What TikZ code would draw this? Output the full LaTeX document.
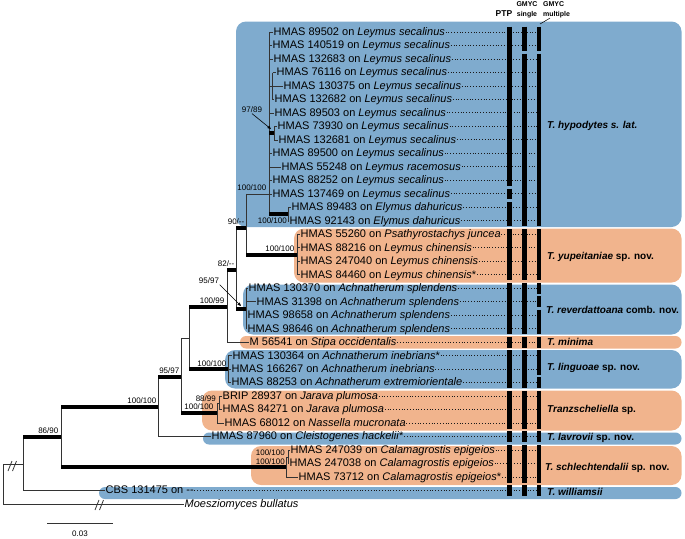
\documentclass[tikz,border=0pt]{standalone}
\usepackage{fontspec}
\setmainfont{Liberation Sans}
\usetikzlibrary{arrows.meta,calc,positioning}
\definecolor{cladeblue}{RGB}{127,171,206}
\definecolor{cladeorange}{RGB}{241,180,141}
\tikzset{
  leaf/.style={anchor=west, inner xsep=0.5pt, inner ysep=0pt,
    font=\fontsize{11}{13}\selectfont, text height=8pt, text depth=1.5pt},
  branch/.style={black!80, line width=0.8pt},
  strong/.style={black, line width=4pt},
  support/.style={font=\fontsize{8}{9}\selectfont, inner sep=0.5pt},
  leader/.style={black!90, line width=1pt, dash pattern=on 1pt off 1.8pt},
  clade box/.style={rounded corners=10pt},
  thin clade/.style={rounded corners=6pt},
  delim bar/.style={black, line width=4.4pt},
  species/.style={anchor=west, inner sep=0pt,
    font=\fontsize{10}{12}\selectfont\bfseries},
  header/.style={inner sep=0pt, font=\fontsize{7}{9.5}\selectfont\bfseries},
  pointer/.style={black, line width=0.6pt,
    -{Triangle[length=3.5pt,width=3pt]}}
}

\begin{document}
\begin{tikzpicture}[x=1pt, y=-1pt]
  \useasboundingbox (0,0) rectangle (685,538);

  % Clade backgrounds.
  \fill[cladeblue, clade box]   (236,21.5)  rectangle (681.5,227);
  \fill[cladeorange, clade box] (294,228.5) rectangle (681.5,282.5);
  \fill[cladeblue, clade box]   (243,284.5) rectangle (681.5,334.5);
  \fill[cladeorange, thin clade] (240,336)  rectangle (681.5,348.5);
  \fill[cladeblue, clade box]   (225,350)   rectangle (681.5,388.5);
  \fill[cladeorange, clade box] (202,390.5) rectangle (681.5,430.5);
  \fill[cladeblue, thin clade]  (203,432.5) rectangle (681.5,444.5);
  \fill[cladeorange, clade box] (251,446)   rectangle (681.5,485);
  \fill[cladeblue, thin clade]  (99,487)    rectangle (681.5,499);

  % Column headers.
  \node[header, font=\fontsize{8.5}{9}\selectfont\bfseries] (ptp) at (504,14) {PTP};
  \node[header, align=center] (gsingle) at (527,10) {GMYC\\single};
  \node[header, align=left, anchor=west] (gmulti) at (543,10) {GMYC\\multiple};
  \coordinate (multiTop) at (540,24);
  \draw[line width=0.5pt] ([xshift=7pt]gmulti.south west) -- (multiTop);

  % Leaves: T. hypodytes s. lat.
  \node[leaf] (hy1)  at (273,32.0)  {HMAS 89502 on \textit{Leymus secalinus}};
  \node[leaf] (hy2)  at (272,45.5)  {HMAS 140519 on \textit{Leymus secalinus}};
  \node[leaf] (hy3)  at (273,59.0)  {HMAS 132683 on \textit{Leymus secalinus}};
  \node[leaf] (hy4)  at (276,72.5)  {HMAS 76116 on \textit{Leymus secalinus}};
  \node[leaf] (hy5)  at (283,86.0)  {HMAS 130375 on \textit{Leymus secalinus}};
  \node[leaf] (hy6)  at (274,99.5)  {HMAS 132682 on \textit{Leymus secalinus}};
  \node[leaf] (hy7)  at (274,112.9) {HMAS 89503 on \textit{Leymus secalinus}};
  \node[leaf] (hy8)  at (277,126.4) {HMAS 73930 on \textit{Leymus secalinus}};
  \node[leaf] (hy9)  at (278,139.9) {HMAS 132681 on \textit{Leymus secalinus}};
  \node[leaf] (hy10) at (272,153.4) {HMAS 89500 on \textit{Leymus secalinus}};
  \node[leaf] (hy11) at (281,166.9) {HMAS 55248 on \textit{Leymus racemosus}};
  \node[leaf] (hy12) at (272,180.4) {HMAS 88252 on \textit{Leymus secalinus}};
  \node[leaf] (hy13) at (272,193.9) {HMAS 137469 on \textit{Leymus secalinus}};
  \node[leaf] (hy14) at (291,207.4) {HMAS 89483 on \textit{Elymus dahuricus}};
  \node[leaf] (hy15) at (289,220.9) {HMAS 92143 on \textit{Elymus dahuricus}};

  % Leaves: T. yupeitaniae and T. reverdattoana.
  \node[leaf] (yu1) at (300,234.4) {HMAS 55260 on \textit{Psathyrostachys juncea}};
  \node[leaf] (yu2) at (300,247.8) {HMAS 88216 on \textit{Leymus chinensis}};
  \node[leaf] (yu3) at (300,261.3) {HMAS 247040 on \textit{Leymus chinensis}};
  \node[leaf] (yu4) at (300,274.8) {HMAS 84460 on \textit{Leymus chinensis}*};
  \node[leaf] (re1) at (248,288.3) {HMAS 130370 on \textit{Achnatherum splendens}};
  \node[leaf] (re2) at (256,301.8) {HMAS 31398 on \textit{Achnatherum splendens}};
  \node[leaf] (re3) at (247,315.3) {HMAS 98658 on \textit{Achnatherum splendens}};
  \node[leaf] (re4) at (247,328.8) {HMAS 98646 on \textit{Achnatherum splendens}};

  % Leaves: remaining clades and outgroup.
  \node[leaf] (mi1) at (249,342.3) {M 56541 on \textit{Stipa occidentalis}};
  \node[leaf] (li1) at (232,355.8) {HMAS 130364 on \textit{Achnatherum inebrians}*};
  \node[leaf] (li2) at (231,369.3) {HMAS 166267 on \textit{Achnatherum inebrians}};
  \node[leaf] (li3) at (231,382.7) {HMAS 88253 on \textit{Achnatherum extremiorientale}};
  \node[leaf] (tr1) at (222,396.2) {BRIP 28937 on \textit{Jarava plumosa}};
  \node[leaf] (tr2) at (222,409.7) {HMAS 84271 on \textit{Jarava plumosa}};
  \node[leaf] (tr3) at (224,423.2) {HMAS 68012 on \textit{Nassella mucronata}};
  \node[leaf] (la1) at (211,436.7) {HMAS 87960 on \textit{Cleistogenes hackelii}*};
  \node[leaf] (sc1) at (290,450.2) {HMAS 247039 on \textit{Calamagrostis epigeios}};
  \node[leaf] (sc2) at (289,463.7) {HMAS 247038 on \textit{Calamagrostis epigeios}};
  \node[leaf] (sc3) at (298,477.2) {HMAS 73712 on \textit{Calamagrostis epigeios}*};
  \node[leaf] (wi1) at (105,490.7) {CBS 131475 on -{}-};
  \node[leaf] (og1) at (184,504.2) {\textit{Moesziomyces bullatus}};

  % Internal nodes of the tree.
  \coordinate (nRoot) at (3,484);
  \coordinate (nIn)   at (23,464);
  \coordinate (n86)   at (61,437);
  \coordinate (n100)  at (158,407);
  \coordinate (n95)   at (181,377);
  \coordinate (nB)    at (189,338);
  \coordinate (n99)   at (227,307);
  \coordinate (n82)   at (236,270);
  \coordinate (n90)   at (246,228);
  \coordinate (nHyp)  at (269,193.9);
  \coordinate (nHa)   at (272.5,86);
  \coordinate (nHb)   at (274,133.2);
  \coordinate (nEly)  at (288,214.2);
  \coordinate (nYup)  at (297,254.6);
  \coordinate (nRev)  at (246,308.5);
  \coordinate (nLin)  at (228,369.3);
  \coordinate (nTra)  at (217,413);
  \coordinate (nTrb)  at (219,403);
  \coordinate (nSch)  at (286,467);
  \coordinate (nScb)  at (288,457);

  % Dotted leaders towards the delimitation columns.
  \coordinate (dotEnd) at (539,0);
  \foreach \c in {hy1,hy2,hy3,hy4,hy5,hy6,hy7,hy8,hy9,hy10,hy11,hy12,hy13,hy14,hy15,
                  yu1,yu2,yu3,yu4,re1,re2,re3,re4,mi1,li1,li2,li3,tr1,tr2,tr3,
                  la1,sc1,sc2,sc3,wi1}
    \draw[leader] (\c.east) -- (\c.east -| dotEnd);

  % Vertical parts of every node.
  \foreach \p/\a/\b in {nRoot/nIn/og1, nIn/n86/wi1, n86/n100/nSch, n100/n95/la1,
                        n95/nB/nTra, nB/n99/nLin, n99/n82/mi1, n82/n90/nRev,
                        n90/nHyp/nYup, nHyp/hy1/nEly, nHa/hy4/hy6, nHb/hy8/hy9,
                        nEly/hy14/hy15, nYup/yu1/yu4, nRev/re1/re4, nLin/li1/li3,
                        nTra/nTrb/tr3, nTrb/tr1/tr2, nSch/nScb/sc3, nScb/sc1/sc2}
    \draw[branch] (\p |- \a) -- (\p |- \b);

  % Thin branches.
  \foreach \p/\c in {nRoot/nIn, n95/nB, n90/nHyp, nHyp/nHa, nTra/nTrb, nSch/nScb}
    \draw[branch] (\p |- \c) -- (\c);
  \foreach \p/\c in {nRoot/og1, nIn/wi1, n100/la1, n99/mi1,
                     nHyp/hy1, nHyp/hy2, nHyp/hy3, nHyp/hy7, nHyp/hy10, nHyp/hy11,
                     nHyp/hy12, nHyp/hy13, nHa/hy4, nHa/hy5, nHa/hy6, nHb/hy8, nHb/hy9,
                     nEly/hy14, nEly/hy15, nYup/yu1, nYup/yu2, nYup/yu3, nYup/yu4,
                     nRev/re1, nRev/re2, nRev/re3, nRev/re4, nLin/li1, nLin/li2, nLin/li3,
                     nTrb/tr1, nTrb/tr2, nTra/tr3, nScb/sc1, nScb/sc2, nSch/sc3}
    \draw[branch] (\p |- \c.west) -- (\c.west);

  % Strongly supported branches.
  \foreach \p/\c in {nIn/n86, n86/n100, n86/nSch, n100/n95, n95/nTra, nB/n99, nB/nLin,
                     n99/n82, n82/n90, n82/nRev, n90/nYup, nHyp/nHb, nHyp/nEly}
    \draw[strong] (\p |- \c) -- (\c);

  % Long branches are shortened.
  \draw[branch] (8,471) -- (12,461) (12.5,471) -- (16.5,461);
  \draw[branch] (95,510) -- (99,500) (99.5,510) -- (103.5,500);

  % Support values.
  \node[support, anchor=south east] (s8690)  at (59,434.5)   {86/90};
  \node[support, anchor=south east] (s100a)  at (157,404.5)  {100/100};
  \node[support, anchor=south east] (s9597)  at (180,374.5)  {95/97};
  \node[support, anchor=south east] (s10099) at (225,304.5)  {100/99};
  \node[support, anchor=south east] (s100l)  at (227,366.8)  {100/100};
  \node[support, anchor=south east] (s100t)  at (214,410.5)  {100/100};
  \node[support, anchor=east]       (s8899)  at (216.5,399)  {88/99};
  \node[support, anchor=south east] (s82)    at (235,267.5)  {82/-{}-};
  \node[support, anchor=south east] (s90)    at (245,225.5)  {90/-{}-};
  \node[support, anchor=south east] (s100h)  at (267,191.5)  {100/100};
  \node[support, anchor=south east] (s100y)  at (295,252)    {100/100};
  \node[support, anchor=east]       (s100e)  at (287.5,221)  {100/100};
  \node[support, anchor=east]       (s100sb) at (285.5,453)  {100/100};
  \node[support, anchor=east]       (s100s)  at (285.5,462)  {100/100};
  \node[support] (s9789) at (252,110) {97/89};
  \node[support] (s9597r) at (209,281) {95/97};
  \coordinate (tipHb)  at (271,129);
  \coordinate (tipRev) at (241,306);
  \draw[pointer] (s9789.south) -- (tipHb);
  \draw[pointer] (s9597r.south east) -- (tipRev);

  % Species delimitation: PTP, GMYC single, GMYC multiple.
  \foreach \a/\b in {32.0/180.4, 193.9/193.9, 207.4/220.9, 234.4/274.8, 288.3/328.8,
                     342.3/342.3, 355.8/382.7, 396.2/423.2, 436.7/436.7, 450.2/477.2,
                     490.7/490.7}
    \draw[delim bar] (509.5,{\a-5.4}) -- (509.5,{\b+5.4});
  \foreach \a/\b in {32.0/45.5, 59.0/220.9, 234.4/274.8, 288.3/328.8, 342.3/342.3,
                     355.8/382.7, 396.2/423.2, 436.7/436.7, 450.2/477.2, 490.7/490.7}
    \draw[delim bar] (524.5,{\a-5.4}) -- (524.5,{\b+5.4});
  \foreach \a/\b in {32.0/45.5, 59.0/220.9, 234.4/274.8, 288.3/288.3, 301.8/301.8,
                     315.3/328.8, 342.3/342.3, 355.8/369.3, 382.7/382.7, 396.2/423.2,
                     436.7/436.7, 450.2/477.2, 490.7/490.7}
    \draw[delim bar] (539,{\a-5.4}) -- (539,{\b+5.4});

  % Species names.
  \node[species] (spHyp) at (547,126)   {\itshape T. hypodytes s. lat.};
  \node[species] (spYup) at (547,257)   {\textit{T. yupeitaniae} sp. nov.};
  \node[species] (spRev) at (546,310)   {\textit{T. reverdattoana} comb. nov.};
  \node[species] (spMin) at (547,342)   {\textit{T. minima}};
  \node[species] (spLin) at (547,368)   {\textit{T. linguoae} sp. nov.};
  \node[species] (spTra) at (547,410)   {\textit{Tranzscheliella} sp.};
  \node[species] (spLav) at (547,437.5) {\textit{T. lavrovii} sp. nov.};
  \node[species] (spSch) at (545,468)   {\textit{T. schlechtendalii} sp. nov.};
  \node[species] (spWil) at (547,492)   {\textit{T. williamsii}};

  % Scale bar.
  \coordinate (scaleL) at (47,523);
  \coordinate (scaleR) at (113,523);
  \draw[branch] (scaleL) -- (scaleR);
  \node[support] (scaleText) at (80,534) {0.03};

\end{tikzpicture}
\end{document}
